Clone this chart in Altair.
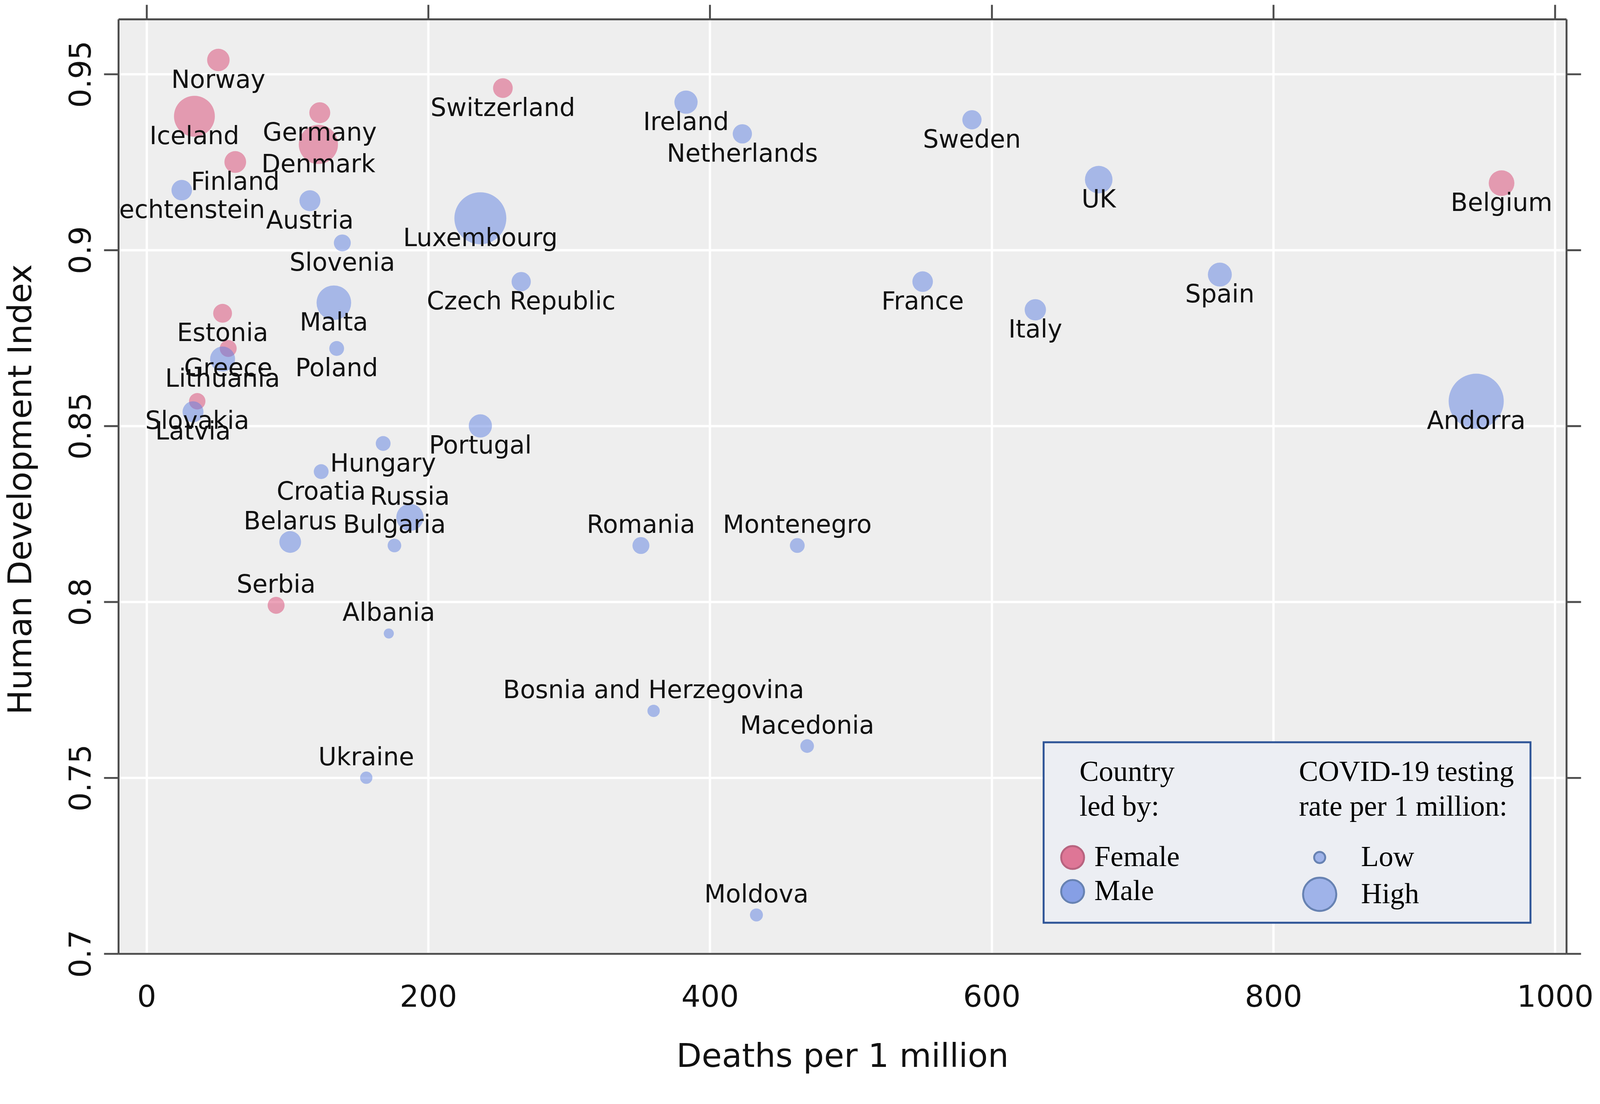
import altair as alt
import pandas as pd

countries = ["Norway", "Iceland", "Germany", "Denmark", "Finland", "Liechtenstein", "Austria",
             "Luxembourg", "Slovenia", "Switzerland", "Ireland", "Netherlands", "Sweden", "UK",
             "Belgium", "Czech Republic", "France", "Italy", "Spain", "Andorra", "Malta", "Estonia",
             "Poland", "Greece", "Lithuania", "Slovakia", "Latvia", "Portugal", "Hungary", "Croatia",
             "Russia", "Belarus", "Bulgaria", "Romania", "Montenegro", "Serbia", "Albania",
             "Bosnia and Herzegovina", "Macedonia", "Ukraine", "Moldova"]
deaths = [51, 34, 123, 122, 63, 25, 116,
          237, 139, 253, 383, 423, 586, 676,
          962, 266, 551, 631, 762, 944, 133, 54,
          135, 58, 54, 36, 33, 237, 168, 124,
          187, 102, 176, 351, 462, 92, 172,
          360, 469, 156, 433]
hdi = [0.954, 0.938, 0.939, 0.930, 0.925, 0.917, 0.914,
       0.909, 0.902, 0.946, 0.942, 0.933, 0.937, 0.920,
       0.919, 0.891, 0.891, 0.883, 0.893, 0.857, 0.885, 0.882,
       0.872, 0.872, 0.869, 0.857, 0.854, 0.850, 0.845, 0.837,
       0.824, 0.817, 0.816, 0.816, 0.816, 0.799, 0.791,
       0.769, 0.759, 0.750, 0.711]
leader = ["Female", "Female", "Female", "Female", "Female", "Male", "Male",
          "Male", "Male", "Female", "Male", "Male", "Male", "Male",
          "Female", "Male", "Male", "Male", "Male", "Male", "Male", "Female",
          "Male", "Female", "Male", "Female", "Male", "Male", "Male", "Male",
          "Male", "Male", "Male", "Male", "Male", "Female", "Male",
          "Male", "Male", "Male", "Male"]
# testing rate (thousand tests per 1 million)
testing = [30, 99, 26, 91, 28, 25, 26,
           160, 17, 23, 32, 22, 22, 45,
           39, 22, 25, 27, 34, 180, 71, 21,
           13, 17, 37, 16, 26, 32, 13, 13,
           44, 28, 11, 17, 13, 17, 6,
           9, 11, 9, 10]

df = pd.DataFrame({"country": countries, "deaths": deaths, "hdi": hdi,
                   "leader": leader, "testing": testing})

W, H = 3795, 2449
x_ticks = [0, 200, 400, 600, 800, 1000]
y_ticks = [0.7, 0.75, 0.8, 0.85, 0.9, 0.95]
x_scale = alt.Scale(domain=[-20, 1008], nice=False, zero=False)
y_scale = alt.Scale(domain=[0.7, 0.9656], nice=False, zero=False)

AX = "#4d4d4d"
TXT = "#111111"
SANS = "DejaVu Sans"
SERIF = "Liberation Serif"

x_bottom = alt.Axis(orient="bottom", values=x_ticks, format="d", grid=True, gridColor="white",
                    gridWidth=6, ticks=False, tickSize=0, domainColor=AX, domainWidth=5,
                    labelFont=SANS, labelFontSize=79, labelColor=TXT, labelBaseline="alphabetic",
                    labelPadding=139, labelFlush=False, labelOverlap=False, labelLimit=1000,
                    title="Deaths per 1 million", titleFont=SANS, titleFontSize=86,
                    titleFontWeight="normal", titleColor=TXT, titleX=W / 2, titleY=296,
                    titleBaseline="alphabetic", titleAlign="center", titleLimit=3000)
y_left = alt.Axis(orient="left", values=y_ticks, format="~g", grid=True, gridColor="white",
                  gridWidth=6, ticks=True, tickSize=38, tickWidth=5, tickColor=AX,
                  domainColor=AX, domainWidth=5, labelFont=SANS, labelFontSize=79,
                  labelColor=TXT, labelAngle=270, labelAlign="center",
                  labelBaseline="alphabetic", labelPadding=35, labelFlush=False,
                  labelOverlap=False, labelLimit=1000, title="Human Development Index",
                  titleFont=SANS, titleFontSize=86, titleFontWeight="normal", titleColor=TXT,
                  titleAngle=270, titleX=-229, titleY=1232, titleBaseline="alphabetic",
                  titleAlign="center", titleLimit=3000)
x_top = alt.Axis(orient="top", values=x_ticks, labels=False, grid=False, ticks=True,
                 tickSize=38, tickWidth=5, tickColor=AX, domainColor=AX, domainWidth=5,
                 title=None)
y_right = alt.Axis(orient="right", values=y_ticks, labels=False, grid=False, ticks=True,
                   tickSize=38, tickWidth=5, tickColor=AX, domainColor=AX, domainWidth=5,
                   title=None)

lead_title = ["Country", "led by:"]
leg_common = dict(orient="none", padding=0, titleFont=SERIF, titleFontSize=76,
                  titleFontWeight="normal", titleColor="black", titleLineHeight=91,
                  titleBaseline="top", titleLimit=2000, labelFont=SERIF, labelFontSize=76,
                  labelColor="black", labelLimit=2000, symbolType="circle",
                  symbolStrokeWidth=5)
lead_legend = alt.Legend(legendX=2519, legendY=1936, titlePadding=56, labelOffset=19,
                         symbolOffset=-56, symbolSize=3600, rowPadding=9, **leg_common)
size_legend = alt.Legend(legendX=3094, legendY=1936, titlePadding=56, labelOffset=62,
                         symbolOffset=8, values=[7.3, 65.4],
                         labelExpr="datum.value < 30 ? 'Low' : 'High'",
                         symbolFillColor="#7F9BE6", symbolStrokeColor="#2F5597",
                         rowPadding=4, **leg_common)

lead_domain = ["Female", "Male"]

points = alt.Chart(df).mark_circle(clip=True).encode(
    x=alt.X("deaths:Q", scale=x_scale, axis=x_bottom),
    y=alt.Y("hdi:Q", scale=y_scale, axis=y_left),
    fill=alt.Fill("leader:N", title=lead_title,
                  scale=alt.Scale(domain=lead_domain, range=["#D94470", "#5B7FE0"]),
                  legend=lead_legend),
    stroke=alt.Stroke("leader:N", title=lead_title,
                      scale=alt.Scale(domain=lead_domain, range=["#A3294F", "#2F5597"]),
                      legend=lead_legend),
    strokeWidth=alt.value(0),
    fillOpacity=alt.value(0.7),
    size=alt.Size("testing:Q", title=["COVID-19 testing", "rate per 1 million:"],
                  scale=alt.Scale(domain=[0, 180], range=[0, 20844], zero=True),
                  legend=size_legend),
)

text_kw = dict(font=SANS, fontSize=65, color=TXT, align="center", baseline="middle", clip=True)

labels_below = alt.Chart(df).transform_filter("datum.hdi >= 0.83").mark_text(
    dy=53, **text_kw).encode(
    x=alt.X("deaths:Q", scale=x_scale, axis=x_top),
    y=alt.Y("hdi:Q", scale=y_scale, axis=y_right),
    text="country:N",
)
labels_above = alt.Chart(df).transform_filter("datum.hdi < 0.83").mark_text(
    dy=-53, **text_kw).encode(
    x=alt.X("deaths:Q", scale=x_scale, axis=None),
    y=alt.Y("hdi:Q", scale=y_scale, axis=None),
    text="country:N",
)

legend_box = alt.Chart(alt.Data(values=[{"k": 1}])).mark_rect(
    fill="#ECEEF3", stroke="#2F5597", strokeWidth=5).encode(
    x=alt.value(2425), x2=alt.value(3701), y=alt.value(1895), y2=alt.value(2368))

chart = alt.layer(legend_box, points, labels_below, labels_above).resolve_axis(
    x="independent", y="independent"
).properties(
    width=W, height=H,
    autosize=alt.AutoSizeParams(type="none"),
    padding={"left": 302, "top": 9, "right": 80, "bottom": 317},
    background="white",
).configure_view(fill="#EEEEEE", strokeWidth=0)

chart.save("out.html", embed_options={"renderer": "svg", "actions": False})
